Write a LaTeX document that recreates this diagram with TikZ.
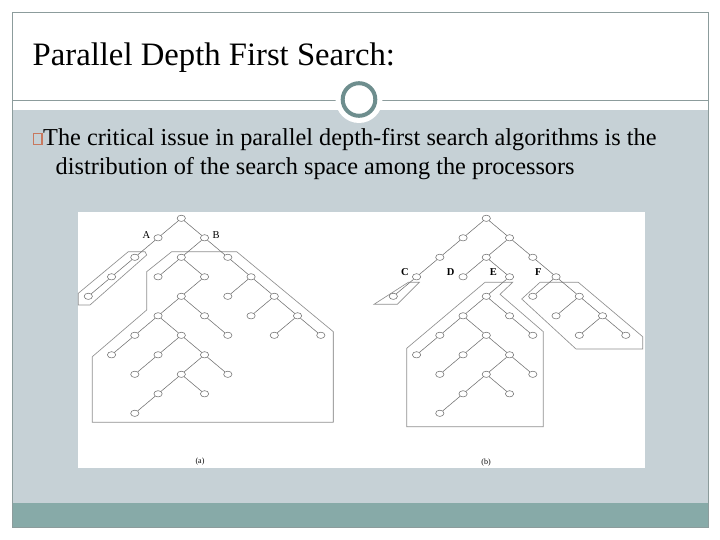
\documentclass[tikz,border=0pt]{standalone}
\usepackage{fontspec}
\setmainfont{Liberation Serif}
\usetikzlibrary{shapes.geometric}
\definecolor{slatebg}{HTML}{C6D1D6}
\definecolor{tealbar}{HTML}{87AAA8}
\definecolor{framegray}{HTML}{8C9C9C}
\definecolor{ringcol}{HTML}{6E8E8E}
\definecolor{bulletcol}{HTML}{C8785E}
\definecolor{treegray}{HTML}{707070}
\definecolor{polygray}{HTML}{909090}
\begin{document}
\begin{tikzpicture}[x=1pt,y=-1pt,
  tn/.style={ellipse,draw=treegray,line width=0.55pt,minimum width=8.3pt,minimum height=6.3pt,inner sep=0pt,fill=white},
  te/.style={draw=treegray,line width=0.55pt},
  region/.style={draw=polygray,line width=0.65pt,line join=miter},
  lbl/.style={font=\fontsize{10.5}{10.5}\selectfont,inner sep=0pt},
  caplbl/.style={font=\fontsize{8}{8}\selectfont,inner sep=0pt}]
\useasboundingbox (0,0) rectangle (720,540);
\fill[white] (0,0) rectangle (720,540);
\fill[slatebg] (12,110) rectangle (708,502.7);
\fill[tealbar] (12,502.7) rectangle (708,527.7);
\draw[framegray,line width=0.7pt] (12,12) rectangle (708,527.7);
\draw[framegray,line width=0.7pt] (12,100) -- (708,100);
\fill[white] (359,99.5) circle (23.5);
\draw[ringcol,line width=4pt,fill=white] (359,99.5) circle (16.3);
% texts
\node[anchor=base west,inner sep=0pt,font=\fontsize{32.7}{32.7}\selectfont] (title) at (32.5,65.5) {Parallel Depth First Search:};
\draw[bulletcol,line width=1.1pt] (33.5,133.5) rectangle (42,144.5);
\node[anchor=base west,inner sep=0pt,font=\fontsize{24.3}{24.3}\selectfont] (line1) at (43,145.5) {The critical issue in parallel depth-first search algorithms is the};
\node[anchor=base west,inner sep=0pt,font=\fontsize{24.3}{24.3}\selectfont] (line2) at (55.5,174.5) {distribution of the search space among the processors};
% figure panel
\fill[white] (77.5,212) rectangle (644.5,468);
% regions (a)
\draw[region] (128.3,251.7) -- (145,251.7) -- (146.7,255) -- (90,305) -- (78.3,305) -- (78.3,293.3) -- cycle;
\draw[region] (171.7,251.7) -- (236.7,251.7) -- (333.3,331.7) -- (333.3,422.3) -- (92.3,422.3) -- (92.3,356.7) -- (146.7,310) -- (146.7,271.7) -- cycle;
\draw[polygray!80,line width=1.2pt] (333.8,332) -- (333.8,422);
% regions (b)
\draw[region] (408.3,282.3) -- (419.3,282.3) -- (397.3,304.3) -- (374,304.3) -- cycle;
\draw[region] (485,282.3) -- (512.7,282.3) -- (500,294.3) -- (543.3,331.7) -- (543.3,426.7) -- (406.7,426.7) -- (406.7,348.3) -- cycle;
\draw[region] (521.7,299) -- (540,282.3) -- (578.3,282.3) -- (642.7,336.7) -- (642.7,349) -- (576,349) -- cycle;
% trees
\foreach \p/\ox in {a/88.3,b/393.3} {
  \foreach \c/\r in {4/0,3/1,5/1,2/2,1/3,0/4,4/2,6/2,3/3,5/3,7/3,4/4,6/4,8/4,3/5,5/5,7/5,9/5,2/6,4/6,6/6,8/6,10/6,1/7,3/7,5/7,2/8,4/8,6/8,3/9,5/9,2/10}
    \node[tn] (\p-\c-\r) at ({\ox+23.25*\c},{218.3+19.5*\r}) {};
  \foreach \u/\v in {4-0/3-1,4-0/5-1,3-1/2-2,2-2/1-3,1-3/0-4,5-1/4-2,5-1/6-2,4-2/3-3,4-2/5-3,6-2/7-3,7-3/6-4,7-3/8-4,8-4/7-5,8-4/9-5,9-5/8-6,9-5/10-6,5-3/4-4,4-4/3-5,4-4/5-5,5-5/6-6,3-5/2-6,3-5/4-6,2-6/1-7,4-6/3-7,4-6/5-7,3-7/2-8,5-7/4-8,5-7/6-8,4-8/3-9,4-8/5-9,3-9/2-10}
    \draw[te] (\p-\u) -- (\p-\v);
}
% labels
\node[lbl] (labA) at (146.5,235.5) {A};
\node[lbl] (labB) at (216,235.5) {B};
\node[lbl,font=\fontsize{10.5}{10.5}\selectfont\bfseries] (labC) at (405,272.3) {C};
\node[lbl,font=\fontsize{10.5}{10.5}\selectfont\bfseries] (labD) at (450.7,272.3) {D};
\node[lbl,font=\fontsize{10.5}{10.5}\selectfont\bfseries] (labE) at (493.3,272.3) {E};
\node[lbl,font=\fontsize{10.5}{10.5}\selectfont\bfseries] (labF) at (538.3,272.3) {F};
\node[caplbl] (capa) at (200,461.7) {(a)};
\node[caplbl] (capb) at (486,462.3) {(b)};
\end{tikzpicture}
\end{document}
